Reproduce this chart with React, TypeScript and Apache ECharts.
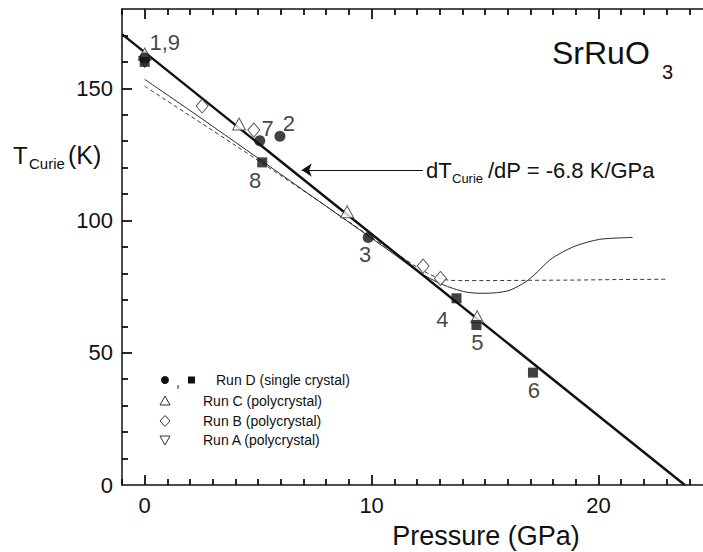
import React, { useEffect, useRef } from 'react';
import * as echarts from 'echarts';

// ---- axes ----
const X_MIN = -1;
const X_MAX = 25;
const Y_MIN = 0;
const Y_MAX = 180;
const pressureTickLabels = [0, 10, 20];
const X_MAJOR = 10;
const Y_MAJOR = 50;
const xTickValues = Array.from({ length: X_MAX - X_MIN + 1 }, (_, i) => X_MIN + i); // every 1 GPa
const yTickValues = Array.from({ length: Y_MAX / 10 - 1 }, (_, i) => (i + 1) * 10); // every 10 K

// ---- Run D (single crystal) ----
const runDCircleP = [0, 5.07, 5.96, 9.85];
const runDCircleT = [161.5, 130.2, 131.9, 93.6];
const runDCircleLabels = ['1,9', '7', '2', '3'];
const runDSquareP = [0, 5.18, 13.74, 14.62, 17.11];
const runDSquareT = [160, 122, 70.6, 60.5, 42.5];
const runDSquareLabels = ['', '8', '4', '5', '6'];
// ---- Run C (polycrystal) ----
const runCP = [0, 4.16, 8.92, 14.65];
const runCT = [163, 136.5, 103.3, 63.6];
// ---- Run B (polycrystal) ----
const runBP = [0, 2.53, 4.81, 12.27, 13.03];
const runBT = [161, 143.3, 134.2, 82.8, 78.1];
// ---- Run A (polycrystal) ----
const runAP = [0];
const runAT = [160];

// ---- linear fit dTc/dP = -6.8 K/GPa ----
const fitP = [-1, 23.8];
const fitT = [170.5, 0];

// ---- thin solid curve ----
const solidCurveP = [0, 2, 4, 6, 8, 10, 11, 12, 12.6, 13.1, 13.6, 14.2, 14.9, 15.5, 16.1, 16.8, 17.3, 17.85, 18.4, 18.9, 19.5, 20.05, 20.8, 21.5];
const solidCurveT = [153.4, 141.6, 129.6, 117.5, 105.4, 93.3, 87.2, 81.0, 78.0, 75.9, 74.3, 72.9, 72.5, 72.7, 73.7, 76.9, 80.5, 85.1, 88.0, 90.1, 91.8, 92.9, 93.4, 93.6];

// ---- dashed curve ----
const dashedCurveP = [0, 2, 4, 6, 8, 10, 11, 12, 12.6, 13.1, 13.5, 14, 15, 17, 19, 21, 23];
const dashedCurveT = [150.8, 139.6, 128.4, 117, 105.4, 93.6, 88, 82.4, 79.5, 77.9, 77.4, 77.3, 77.3, 77.4, 77.5, 77.7, 77.8];

// ---- arrow annotation (data coords) ----
const arrowFromP = 12.26;
const arrowToP = 6.92;
const arrowT = 119.1;

const legendItems = ['Run D (single crystal)', 'Run C (polycrystal)', 'Run B (polycrystal)', 'Run A (polycrystal)'];

const FONT = '"Liberation Sans", Arial, Helvetica, sans-serif';
const INK = '#111111';
const OPEN_EDGE = '#333333';

// plot rectangle (px)
const W = 703;
const H = 552;
const G_LEFT = 122;
const G_RIGHT = -9;
const G_TOP = 9;
const G_BOTTOM = 67;
const MAJOR_PX = 10;
const MINOR_PX = 6;

const labelOffsets: Record<string, [number, number]> = {
  '1,9': [20, -15],
  '7': [8, -12],
  '2': [9, -13],
  '3': [-3, 17],
  '8': [-7, 18],
  '4': [-14, 21],
  '5': [1, 17],
  '6': [1, 18],
};

const zip = (a: number[], b: number[]) => a.map((v, i) => [v, b[i]]);

const labeled = (p: number[], t: number[], labels: string[]) =>
  p.map((v, i) => {
    const txt = labels[i];
    const item: any = { value: [v, t[i]] };
    if (txt) {
      item.label = {
        show: true,
        formatter: txt,
        position: 'inside',
        offset: labelOffsets[txt],
        fontSize: 22,
        fontFamily: FONT,
        color: INK,
        textBorderWidth: 0,
        textBorderColor: 'transparent',
      };
    }
    return item;
  });

function buildOption(): any {
  const lineStyle = { color: INK, width: 1.5 };
  // tick lengths expressed in data units of the axes
  const xPerPx = (X_MAX - X_MIN) / (W - G_LEFT - G_RIGHT);
  const yPerPx = (Y_MAX - Y_MIN) / (H - G_TOP - G_BOTTOM);
  const seg = (a: number[], b: number[]) => [{ coord: a }, { coord: b }];
  const tickLines: any[] = [];
  xTickValues.forEach((v) => {
    const len = (v % X_MAJOR === 0 ? MAJOR_PX : MINOR_PX) * yPerPx;
    tickLines.push(seg([v, Y_MIN], [v, Y_MIN + len]));
    tickLines.push(seg([v, Y_MAX], [v, Y_MAX - len]));
  });
  yTickValues.forEach((v) => {
    const len = (v % Y_MAJOR === 0 ? MAJOR_PX : MINOR_PX) * xPerPx;
    tickLines.push(seg([X_MIN, v], [X_MIN + len, v]));
  });

  const legendX = 165;
  const legendY = [380, 401, 421, 440];
  const textX = [216, 203, 203, 203];

  const graphic: any[] = [
    { type: 'text', x: 13, y: 155, style: { text: 'T', fontSize: 24, fontFamily: FONT, fill: INK, align: 'left', verticalAlign: 'middle' } },
    { type: 'text', x: 29, y: 163, style: { text: 'Curie', fontSize: 15, fontFamily: FONT, fill: INK, align: 'left', verticalAlign: 'middle' } },
    { type: 'text', x: 68, y: 155, style: { text: '(K)', fontSize: 25, fontFamily: FONT, fill: INK, align: 'left', verticalAlign: 'middle' } },
    { type: 'text', x: 486, y: 536, style: { text: 'Pressure (GPa)', fontSize: 27, fontFamily: FONT, fill: INK, align: 'center', verticalAlign: 'middle' } },
    { type: 'text', x: 552, y: 53, style: { text: 'SrRuO', fontSize: 32, fontFamily: FONT, fill: INK, align: 'left', verticalAlign: 'middle' } },
    { type: 'text', x: 662, y: 72, style: { text: '3', fontSize: 20, fontFamily: FONT, fill: INK, align: 'left', verticalAlign: 'middle' } },
    { type: 'text', x: 426, y: 170, style: { text: 'dT', fontSize: 22, fontFamily: FONT, fill: INK, align: 'left', verticalAlign: 'middle' } },
    { type: 'text', x: 452, y: 178, style: { text: 'Curie', fontSize: 13, fontFamily: FONT, fill: INK, align: 'left', verticalAlign: 'middle' } },
    { type: 'text', x: 488, y: 170, style: { text: '/dP = -6.8 K/GPa', fontSize: 22, fontFamily: FONT, fill: INK, align: 'left', verticalAlign: 'middle' } },
    { type: 'circle', shape: { cx: legendX, cy: legendY[0], r: 4 }, style: { fill: INK } },
    { type: 'text', x: 178, y: legendY[0] + 2, style: { text: ',', fontSize: 14, fontFamily: FONT, fill: INK, align: 'center', verticalAlign: 'middle' } },
    { type: 'rect', shape: { x: 188, y: legendY[0] - 3.5, width: 7, height: 7 }, style: { fill: INK } },
    {
      type: 'polygon',
      shape: { points: [[legendX, legendY[1] - 5], [legendX + 5, legendY[1] + 4], [legendX - 5, legendY[1] + 4]] },
      style: { fill: '#fff', stroke: OPEN_EDGE, lineWidth: 1 },
    },
    {
      type: 'polygon',
      shape: { points: [[legendX, legendY[2] - 5.5], [legendX + 5, legendY[2]], [legendX, legendY[2] + 5.5], [legendX - 5, legendY[2]]] },
      style: { fill: '#fff', stroke: OPEN_EDGE, lineWidth: 1 },
    },
    {
      type: 'polygon',
      shape: { points: [[legendX - 5, legendY[3] - 4], [legendX + 5, legendY[3] - 4], [legendX, legendY[3] + 5]] },
      style: { fill: '#fff', stroke: OPEN_EDGE, lineWidth: 1 },
    },
    ...legendItems.map((t, i) => ({
      type: 'text',
      x: textX[i],
      y: legendY[i],
      style: { text: t, fontSize: 14, fontFamily: FONT, fill: INK, align: 'left', verticalAlign: 'middle' },
    })),
  ];

  return {
    animation: false,
    backgroundColor: '#ffffff',
    grid: { left: G_LEFT, right: G_RIGHT, top: G_TOP, bottom: G_BOTTOM, containLabel: false, outerBoundsMode: 'none' },
    xAxis: [
      {
        type: 'value',
        min: X_MIN,
        max: X_MAX,
        position: 'bottom',
        splitLine: { show: false },
        axisLine: { show: true, onZero: false, lineStyle },
        axisTick: { show: false },
        axisLabel: { show: true, customValues: pressureTickLabels, fontSize: 22, fontFamily: FONT, color: INK, margin: 9 },
      },
      {
        type: 'value',
        min: X_MIN,
        max: X_MAX,
        position: 'top',
        splitLine: { show: false },
        axisLine: { show: true, onZero: false, lineStyle },
        axisTick: { show: false },
        axisLabel: { show: false },
      },
    ],
    yAxis: [
      {
        type: 'value',
        min: Y_MIN,
        max: Y_MAX,
        interval: Y_MAJOR,
        position: 'left',
        splitLine: { show: false },
        axisLine: { show: true, onZero: false, lineStyle },
        axisTick: { show: false },
        axisLabel: { show: true, showMaxLabel: false, fontSize: 22, fontFamily: FONT, color: INK, margin: 9 },
      },
    ],
    graphic,
    series: [
      {
        type: 'line',
        data: zip(dashedCurveP, dashedCurveT),
        showSymbol: false,
        smooth: 0.3,
        lineStyle: { color: '#3a3a3a', width: 1, type: [4, 3] },
        silent: true,
        z: 2,
      },
      {
        type: 'line',
        data: zip(solidCurveP, solidCurveT),
        showSymbol: false,
        smooth: 0.3,
        lineStyle: { color: '#2a2a2a', width: 1 },
        silent: true,
        z: 2,
      },
      {
        type: 'line',
        data: zip(fitP, fitT),
        showSymbol: false,
        lineStyle: { color: INK, width: 2.5 },
        silent: true,
        z: 3,
        markLine: {
          silent: true,
          symbol: ['none', 'arrow'],
          symbolSize: 10,
          label: { show: false },
          lineStyle: { color: INK, width: 1.2, type: 'solid' },
          emphasis: { disabled: true },
          data: [[{ coord: [arrowFromP, arrowT] }, { coord: [arrowToP, arrowT] }]],
        },
      },
      {
        // carrier for the inward frame ticks (line itself invisible)
        type: 'line',
        data: zip(fitP, fitT),
        showSymbol: false,
        lineStyle: { opacity: 0 },
        silent: true,
        z: 6,
        markLine: {
          silent: true,
          symbol: ['none', 'none'],
          label: { show: false },
          lineStyle: { color: INK, width: 1.8, type: 'solid' },
          emphasis: { disabled: true },
          data: tickLines,
        },
      },
      {
        type: 'scatter',
        data: zip(runBP, runBT),
        symbol: 'diamond',
        symbolSize: [12, 14],
        itemStyle: { color: '#ffffff', borderColor: OPEN_EDGE, borderWidth: 1 },
        z: 4,
      },
      {
        type: 'scatter',
        data: zip(runAP, runAT),
        symbol: 'triangle',
        symbolRotate: 180,
        symbolSize: [12, 11],
        itemStyle: { color: '#ffffff', borderColor: OPEN_EDGE, borderWidth: 1 },
        z: 4,
      },
      {
        type: 'scatter',
        data: zip(runCP, runCT),
        symbol: 'triangle',
        symbolSize: [13, 12],
        itemStyle: { color: '#ffffff', borderColor: OPEN_EDGE, borderWidth: 1 },
        z: 4,
      },
      {
        type: 'scatter',
        data: labeled(runDSquareP, runDSquareT, runDSquareLabels),
        symbol: 'rect',
        symbolSize: 10,
        itemStyle: { color: INK },
        z: 5,
      },
      {
        type: 'scatter',
        data: labeled(runDCircleP, runDCircleT, runDCircleLabels),
        symbol: 'circle',
        symbolSize: 11,
        itemStyle: { color: INK },
        z: 5,
      },
    ],
  };
}

export default function App() {
  const ref = useRef<HTMLDivElement>(null);
  useEffect(() => {
    if (!ref.current) return;
    const chart = echarts.init(ref.current, undefined, { renderer: 'svg' });
    chart.setOption(buildOption());
    return () => chart.dispose();
  }, []);
  return (
    <div
      ref={ref}
      style={{ position: 'absolute', left: 0, top: 0, width: 703, height: 552, background: '#fff' }}
    />
  );
}
